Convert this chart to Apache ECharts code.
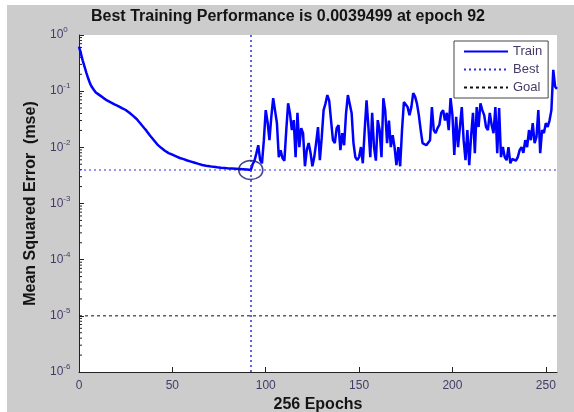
<!DOCTYPE html>
<html><head><meta charset="utf-8">
<script src="https://cdn.jsdelivr.net/npm/echarts@6/dist/echarts.min.js"></script>
<style>
html,body{margin:0;padding:0;background:#ffffff;width:574px;height:412px;overflow:hidden}
#c{position:absolute;left:7px;top:5px;width:567px;height:407px;background:#cccccc}
</style></head><body><div id="c"></div>
<script>
// Training performance (mse) per epoch, epochs 0..92
const trainEarly = [
 0.62,0.47,0.35,0.27,0.21,0.166,0.135,0.117,0.105,0.095,
 0.089,0.085,0.079,0.076,0.0716,0.0684,0.0653,0.063,0.060,0.0582,
 0.0562,0.0543,0.0525,0.050,0.0479,0.0462,0.0437,0.0412,0.0389,0.0363,
 0.0339,0.0316,0.0288,0.0263,0.024,0.0219,0.020,0.018,0.0162,0.0148,
 0.0135,0.0123,0.0112,0.0105,0.0098,0.0092,0.0087,0.0083,0.0079,0.0077,
 0.0074,0.00716,0.00692,0.00668,0.00646,0.00631,0.00617,0.00596,0.00582,0.00569,
 0.00556,0.00543,0.00531,0.00519,0.00507,0.00495,0.00484,0.00479,0.00471,0.00465,
 0.00459,0.00454,0.00449,0.00445,0.00441,0.00437,0.00434,0.00431,0.00428,0.00425,
 0.00422,0.00420,0.00418,0.00416,0.00414,0.00412,0.00410,0.00408,0.00406,0.00405,
 0.00402,0.00399,0.0039499
];
// epochs 93..256
const trainLate = [
 0.0050,0.0058,0.0078,0.0109,0.0060,0.0052,0.0134,0.046,0.028,0.0134,
 0.035,0.075,0.045,0.027,0.0067,0.0089,0.0064,0.0058,0.020,0.061,
 0.040,0.0203,0.0305,0.0067,0.041,0.0101,0.022,0.0179,0.0046,0.009,
 0.0119,0.008,0.0046,0.0067,0.012,0.0229,0.0059,0.015,0.046,0.060,
 0.085,0.068,0.030,0.0134,0.0119,0.022,0.0249,0.0089,0.0179,0.0109,
 0.040,0.085,0.080,0.041,0.0119,0.0067,0.0059,0.0067,0.0101,0.0052,
 0.020,0.069,0.023,0.0067,0.041,0.0101,0.0058,0.0305,0.0203,0.0067,
 0.075,0.045,0.0119,0.030,0.0101,0.0165,0.0101,0.0048,0.0101,0.0046,
 0.0203,0.064,0.058,0.052,0.0375,0.052,0.0925,0.080,0.060,0.0375,
 0.0203,0.0119,0.011,0.0109,0.011,0.0134,0.052,0.0203,0.0179,0.022,
 0.025,0.041,0.046,0.030,0.041,0.0203,0.075,0.0375,0.0073,0.035,
 0.0101,0.023,0.052,0.0134,0.0059,0.0203,0.0048,0.016,0.041,0.0079,
 0.052,0.023,0.061,0.046,0.0375,0.023,0.0203,0.041,0.025,0.0179,
 0.052,0.0079,0.050,0.0067,0.0101,0.0067,0.0059,0.0101,0.0052,0.0062,
 0.0058,0.0058,0.0067,0.0089,0.0101,0.0080,0.0134,0.0101,0.0203,0.0134,
 0.027,0.0119,0.0152,0.046,0.0079,0.0203,0.0179,0.027,0.023,0.030,
 0.046,0.24,0.12,0.11
];
const totalEpochs = 256;
const bestEpoch = 92;
const bestPerf = 0.0039499;
const goalPerf = 1e-5;
const xTickStep = 50;
const yMin = 1e-6, yMax = 1;
const minorMultipliers = [2,3,4,5,6,7,8,9];
const decades = [1e-6,1e-5,1e-4,1e-3,1e-2,1e-1];

const FONT = 'Liberation Sans, Arial, Helvetica, sans-serif';
const LABEL_COLOR = '#463a66';
const BEST_COLOR = '#2f2fe0';
const train = trainEarly.concat(trainLate).map((v,i)=>[i,v]);
const minorTicks = [];
decades.forEach(d => minorMultipliers.forEach(m => minorTicks.push([0, m*d])));

const chart = echarts.init(document.getElementById('c'), null, {renderer:'canvas'});
chart.setOption({
  animation:false,
  backgroundColor:'#cccccc',
  title:{
    text:'Best Training Performance is ' + bestPerf + ' at epoch ' + bestEpoch,
    left:84, top:4, padding:0,
    textStyle:{fontSize:16, fontWeight:'bold', color:'#141414', fontFamily:FONT}
  },
  legend:{
    data:['Train','Best','Goal'],
    orient:'vertical', left:447, top:36,
    padding:[4,6,4,9], itemWidth:44, itemHeight:14, itemGap:5,
    backgroundColor:'#ffffff', borderColor:'#444444', borderWidth:1, borderRadius:0,
    itemStyle:{color:'rgba(0,0,0,0)', borderWidth:0, opacity:0},
    textStyle:{fontSize:13, color:LABEL_COLOR, fontFamily:FONT},
    selectedMode:false
  },
  grid:{left:72, top:30, right:17, bottom:40, show:true, backgroundColor:'#ffffff', borderWidth:0,
        containLabel:false, outerBoundsMode:'none'},
  xAxis:{
    type:'value', min:0, max:totalEpochs, interval:xTickStep,
    axisLine:{show:true, onZero:false, lineStyle:{color:'#222222', width:1}},
    axisTick:{show:true, inside:true, length:5, lineStyle:{color:'#222222'}},
    splitLine:{show:false},
    axisLabel:{showMaxLabel:false, margin:8, fontSize:12, color:LABEL_COLOR, fontFamily:FONT},
    name:totalEpochs + ' Epochs', nameLocation:'middle', nameGap:23,
    nameTextStyle:{fontSize:16, fontWeight:'bold', color:'#141414', fontFamily:FONT}
  },
  yAxis:{
    type:'log', logBase:10, min:yMin, max:yMax,
    axisLine:{show:true, onZero:false, lineStyle:{color:'#222222', width:1}},
    axisTick:{show:true, inside:true, length:5, lineStyle:{color:'#222222'}},
    splitLine:{show:false},
    axisLabel:{
      align:'left', margin:29,
      formatter:v => '{b|10}{s|' + Math.round(Math.log10(v)) + '}',
      rich:{
        b:{fontSize:12, color:LABEL_COLOR, fontFamily:FONT},
        s:{fontSize:8, color:LABEL_COLOR, fontFamily:FONT, padding:[0,0,10,0]}
      }
    },
    name:'Mean Squared Error  (mse)', nameLocation:'middle', nameGap:40,
    nameTextStyle:{fontSize:16, fontWeight:'bold', color:'#141414', fontFamily:FONT}
  },
  series:[
    {
      name:'Goal', type:'line', data:[[0,goalPerf],[totalEpochs,goalPerf]],
      symbol:'none', silent:true, z:2,
      lineStyle:{color:'#111111', width:1, type:[3,3]}, itemStyle:{color:'#111111'}
    },
    {
      name:'Best', type:'line', data:[[0,bestPerf],[totalEpochs,bestPerf]],
      symbol:'none', silent:true, z:2,
      lineStyle:{color:BEST_COLOR, width:1.2, type:[2,3]}, itemStyle:{color:BEST_COLOR},
      markLine:{
        symbol:'none', silent:true, label:{show:false},
        lineStyle:{color:BEST_COLOR, width:1.5, type:[2,3]},
        data:[{xAxis:bestEpoch}]
      }
    },
    {
      name:'Train', type:'line', data:train,
      symbol:'none', silent:true, z:3,
      lineStyle:{color:'#0000ff', width:2.5}, itemStyle:{color:'#0000ff'}
    },
    {
      name:'bestMarker', type:'scatter', data:[[bestEpoch,bestPerf]],
      symbol:'circle', symbolSize:[24,19], silent:true, z:5,
      itemStyle:{color:'rgba(0,0,0,0)', borderColor:'#15157a', borderWidth:1.5}
    },
    {
      name:'minorTicks', type:'custom', data:minorTicks, silent:true, z:1,
      renderItem:(params, api) => {
        const p = api.coord([api.value(0), api.value(1)]);
        return {type:'line', shape:{x1:p[0], y1:p[1], x2:p[0]+3, y2:p[1]},
                style:{stroke:'#222222', lineWidth:1}};
      }
    }
  ]
});
</script></body></html>
